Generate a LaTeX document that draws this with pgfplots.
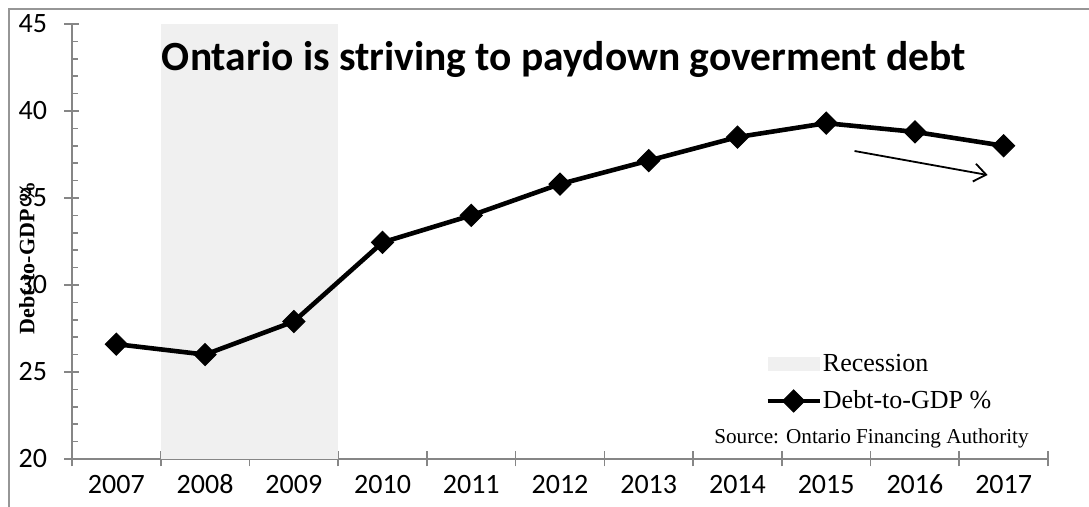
\documentclass[border=0pt]{standalone}
\usepackage{fontspec}
\setmainfont{Liberation Serif}
\newfontfamily\calibri{Carlito}
\usepackage{pgfplots}
\pgfplotsset{compat=1.18}
\usetikzlibrary{arrows.meta}
\definecolor{axgray}{RGB}{134,134,134}
\definecolor{recgray}{RGB}{240,240,240}
\definecolor{framegray}{RGB}{150,150,150}
\begin{document}
\begin{tikzpicture}
\useasboundingbox (0,0) rectangle (544.5pt,253.5pt);
\draw[framegray, line width=0.6pt] (4.5pt,0pt) -- (4.5pt,249pt) -- (544.5pt,249pt);
\begin{axis}[
  at={(36pt,24pt)}, anchor=south west,
  width=488pt, height=217.5pt, scale only axis,
  xmin=-0.5, xmax=10.5, ymin=20, ymax=45,
  axis lines*=left,
  axis line style={axgray, line width=0.8pt},
  tick align=center,
  major tick length=7.5pt,
  minor tick length=3pt,
  tick style={axgray, line width=0.8pt},
  every minor tick/.append style={xshift=1.5pt},
  xtick={-0.5,0.5,...,10.5},
  xticklabels={},
  extra x ticks={0,1,2,3,4,5,6,7,8,9,10},
  extra x tick labels={2007,2008,2009,2010,2011,2012,2013,2014,2015,2016,2017},
  extra x tick style={major tick length=0pt},
  ytick={20,25,30,35,40,45},
  minor y tick num=4,
  /pgf/number format/assume math mode=true,
  /pgf/number format/set thousands separator={},
  tick label style={font=\calibri\fontsize{14}{16}\selectfont},
  xticklabel style={anchor=base, inner sep=0pt, yshift=-17.5pt},
  yticklabel style={anchor=east, inner sep=0pt, xshift=-8.5pt},
  clip=false,
  legend style={draw=none, fill=none, at={(0.71,0.244)}, anchor=north west,
    font=\fontsize{13}{15}\selectfont, row sep=7pt, inner sep=0pt,
    nodes={inner sep=0.5pt}},
  legend cell align=left,
]
\addplot[fill=recgray, draw=none,
  legend image code/.code={\fill[recgray] (0pt,-3.5pt) rectangle (26pt,3.5pt);}]
  coordinates {(0.5,20) (0.5,45) (2.5,45) (2.5,20)} -- cycle;
\addlegendentry{Recession}
\addplot[black, line width=2.3pt, mark=square*, mark size=3.9pt,
  mark options={rotate=45, line width=0.5pt},
  legend image code/.code={\draw[mark repeat=2,mark phase=2] plot coordinates {(0pt,0pt) (13pt,0pt) (26pt,0pt)};}]
  coordinates {(0,26.6) (1,26.0) (2,27.9) (3,32.45) (4,34.0) (5,35.8) (6,37.15) (7,38.5) (8,39.3) (9,38.8) (10,38.0)};
\addlegendentry{Debt-to-GDP \%}
\draw[-{Straight Barb[length=6pt,width=9pt]}, line width=0.9pt] (axis cs:8.32,37.70) -- (axis cs:9.82,36.32);
\end{axis}
\node[font=\calibri\bfseries\fontsize{20.75}{24}\selectfont, anchor=base] at (282pt,218pt) {Ontario is striving to paydown goverment debt};
\node[font=\fontsize{10.6}{12}\selectfont, anchor=center] at (435.75pt,34.5pt) {Source: Ontario Financing Authority};
\node[font=\bfseries\fontsize{11}{12}\selectfont, rotate=90, anchor=center, inner sep=0pt] at (13.5pt,124.5pt) {Debt-to-GDP \%};
\end{tikzpicture}
\end{document}
